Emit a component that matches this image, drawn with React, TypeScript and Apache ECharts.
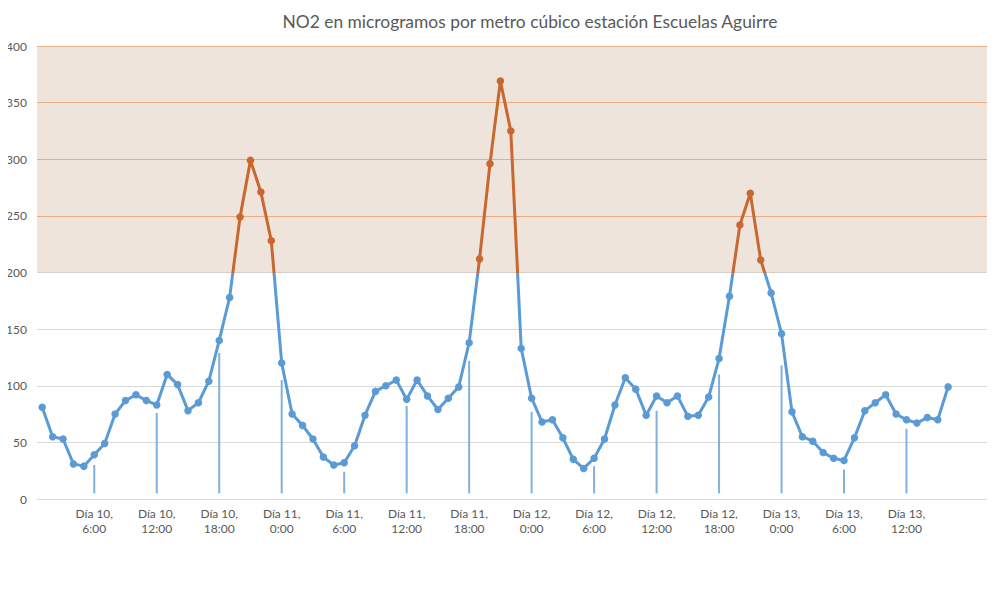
import React, { useEffect, useRef } from "react";
import * as echarts from "echarts";

// Hourly NO2 values, Día 10 1:00 -> Día 13 16:00
const no2Values: number[] = [
  81, 55, 53, 31, 29, 39, 49, 75, 87, 92, 87, 83,
  110, 101, 78, 85, 104, 140, 178, 249, 299, 271, 228, 120,
  75, 65, 53, 37, 30, 32, 47, 74, 95, 100, 105, 88,
  105, 91, 79, 89, 99, 138, 212, 296, 369, 325, 133, 89,
  68, 70, 54, 35, 27, 36, 53, 83, 107, 97, 74, 91,
  85, 91, 73, 74, 90, 124, 179, 242, 270, 211, 182, 146,
  77, 55, 51, 41, 36, 34, 54, 78, 85, 92, 75, 70,
  67, 72, 70, 99,
];

// Thin vertical markers at every 6 hours (index in hourly series, top value)
const markerIndex: number[] = [5, 11, 17, 23, 29, 35, 41, 47, 53, 59, 65, 71, 77, 83];
const markerTop: number[] = [30, 76, 129, 105, 24, 82, 122, 77, 29, 78, 110, 118, 26, 62];
const markerBase = 5;

const firstDay = 10;
const firstHour = 1;
const totalSlots = 92;

const yTicks = { min: 0, max: 400, interval: 50 };
const limitValue = 200;
const bandTop = 400;

const categories: string[] = [];
for (let i = 0; i < totalSlots; i++) {
  const h = firstHour + i;
  const day = firstDay + Math.floor(h / 24);
  const hour = h % 24;
  categories.push(i < no2Values.length ? `Día ${day},\n${hour}:00` : "");
}

const baseData: (number | string)[] = categories.map(() => "-");
const markData: (number | string)[] = categories.map(() => "-");
markerIndex.forEach((idx, k) => {
  baseData[idx] = markerBase;
  markData[idx] = markerTop[k] - markerBase;
});

const FONT = "Lato, 'Open Sans', sans-serif";
const gray = "#d9d9d9";
const orangeGrid = "#f4b183";
const blue = "#5b9bd5";
const orange = "#c8682f";

const W = 995;
const H = 612;
const gridTop = 46;
const gridBottom = 113;

export default function App() {
  const ref = useRef<HTMLDivElement>(null);
  useEffect(() => {
    if (!ref.current) return;
    const chart = echarts.init(ref.current, undefined, { renderer: "svg" });
    const plotH = H - gridTop - gridBottom;
    const split = (yTicks.max - limitValue) / (yTicks.max - yTicks.min);
    const lineGradient = new echarts.graphic.LinearGradient(
      0, gridTop, 0, gridTop + plotH,
      [
        { offset: 0, color: orange },
        { offset: split, color: orange },
        { offset: split, color: blue },
        { offset: 1, color: blue },
      ],
      true
    );
    chart.setOption({
      animation: false,
      backgroundColor: "#ffffff",
      textStyle: { fontFamily: FONT },
      title: {
        text: "NO2 en microgramos por metro cúbico estación Escuelas Aguirre",
        left: 525,
        textAlign: "center",
        top: 8,
        textStyle: { fontFamily: FONT, fontSize: 17.4, fontWeight: "normal", color: "#595959" },
      },
      grid: {
        left: 37,
        right: 0,
        top: gridTop,
        bottom: gridBottom,
        containLabel: false,
        outerBoundsMode: "none",
      },
      xAxis: {
        type: "category",
        data: categories,
        boundaryGap: true,
        axisLine: { show: true, lineStyle: { color: gray, width: 1 } },
        axisTick: { show: false },
        axisLabel: {
          interval: 0,
          formatter: (val: string, idx: number) =>
            val !== "" && (idx + firstHour) % 6 === 0 ? val : "",
          color: "#595959",
          fontSize: 12,
          fontFamily: FONT,
          lineHeight: 15,
          margin: 7,
        },
        splitLine: { show: false },
      },
      yAxis: {
        type: "value",
        min: yTicks.min,
        max: yTicks.max,
        interval: yTicks.interval,
        axisLine: { show: false },
        axisTick: { show: false },
        axisLabel: { color: "#595959", fontSize: 12, fontFamily: FONT, margin: 10 },
        splitLine: {
          show: true,
          lineStyle: {
            color: [gray, gray, gray, gray, gray, orangeGrid, orangeGrid, orangeGrid, orangeGrid],
            width: 1,
          },
        },
      },
      series: [
        {
          type: "bar",
          stack: "m",
          data: baseData,
          barWidth: 2,
          itemStyle: { color: "rgba(0,0,0,0)" },
          silent: true,
          z: 1,
        },
        {
          type: "bar",
          stack: "m",
          data: markData,
          barWidth: 2,
          itemStyle: { color: "#7eb1df" },
          silent: true,
          z: 2,
        },
        {
          type: "line",
          data: no2Values,
          symbol: "circle",
          symbolSize: 7.5,
          lineStyle: { width: 3, color: lineGradient },
          itemStyle: {
            color: (p: any) => (p.value >= limitValue ? orange : blue),
          },
          z: 5,
          markArea: {
            silent: true,
            itemStyle: { color: "rgba(202,165,138,0.3)" },
            data: [[{ yAxis: limitValue }, { yAxis: bandTop }]],
          },
        },
      ],
    });
    return () => chart.dispose();
  }, []);
  return <div ref={ref} style={{ width: W, height: H, margin: -8 }} />;
}
